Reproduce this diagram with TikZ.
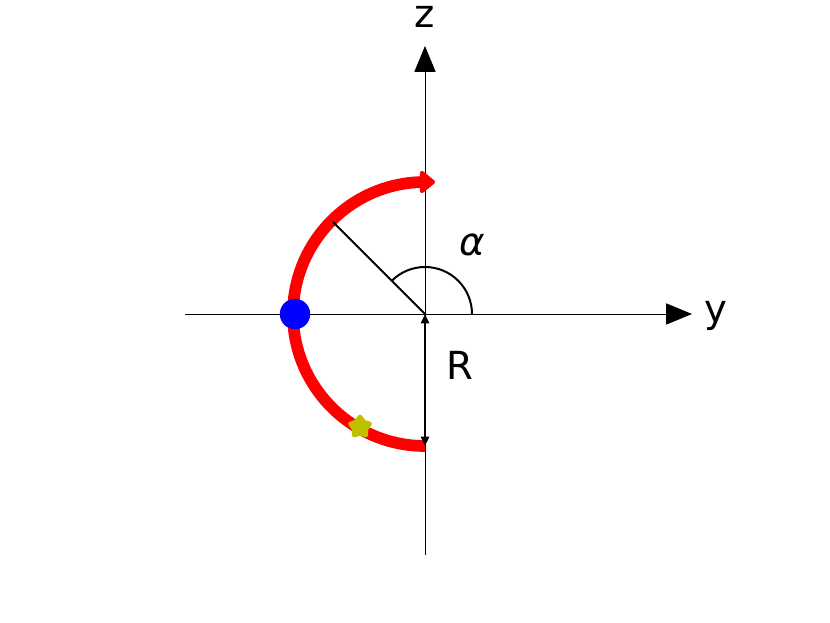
\documentclass[tikz,border=0pt]{standalone}
\usepackage{fontspec}
\setmainfont{DejaVu Sans}
\usetikzlibrary{arrows.meta, shapes.geometric}
\definecolor{starcol}{rgb}{0.75,0.75,0}

\begin{document}
\begin{tikzpicture}[x=0.03cm, y=-0.03cm,
axis/.style={-{Triangle[length=22pt, width=18pt]}, line width=0.8pt},
path/.style={red, line width=10pt, -{Triangle[length=14pt, width=22pt, round]}},
label/.style={font=\fontsize{33}{40}\selectfont, inner sep=0pt}]

\useasboundingbox (0,0) rectangle (830,623);

% axes
\coordinate (o) at (425,314);
\coordinate (yl) at (185,314);
\coordinate (yr) at (692,314);
\coordinate (zb) at (425,555);
\coordinate (zt) at (425,46);
\draw[axis] (yl) -- (yr);
\draw[axis] (zb) -- (zt);
\node[label] (ylab) at (716,316) {y};
\node[label] (zlab) at (425,17) {z};

% path
\draw[path] (425,446) arc[start angle=90, end angle=270, radius=132] -- ++(10,0);

% radius and angle
\coordinate (rp) at (333,222);
\draw[line width=1.7pt] (o) -- (rp);
\draw[line width=1.7pt] (472,314) arc[start angle=0, end angle=-135, radius=47];
\node[label] (alpha) at (472,245) {\itshape α};
\coordinate (rb) at (425,446);
\draw[line width=1.7pt, {Triangle[length=8pt, width=7pt]}-{Triangle[length=8pt, width=7pt]}] (o) -- (rb);
\node[label] (rlab) at (460,365) {R};

% markers
\node[circle, fill=blue, minimum size=26pt, inner sep=0pt] (dot) at (295,314) {};
\node[star, star points=5, star point ratio=1.6, fill=starcol, draw=starcol, line join=round, line width=4pt, minimum size=17pt, inner sep=0pt] (mark) at (360,427) {};
\end{tikzpicture}
\end{document}
